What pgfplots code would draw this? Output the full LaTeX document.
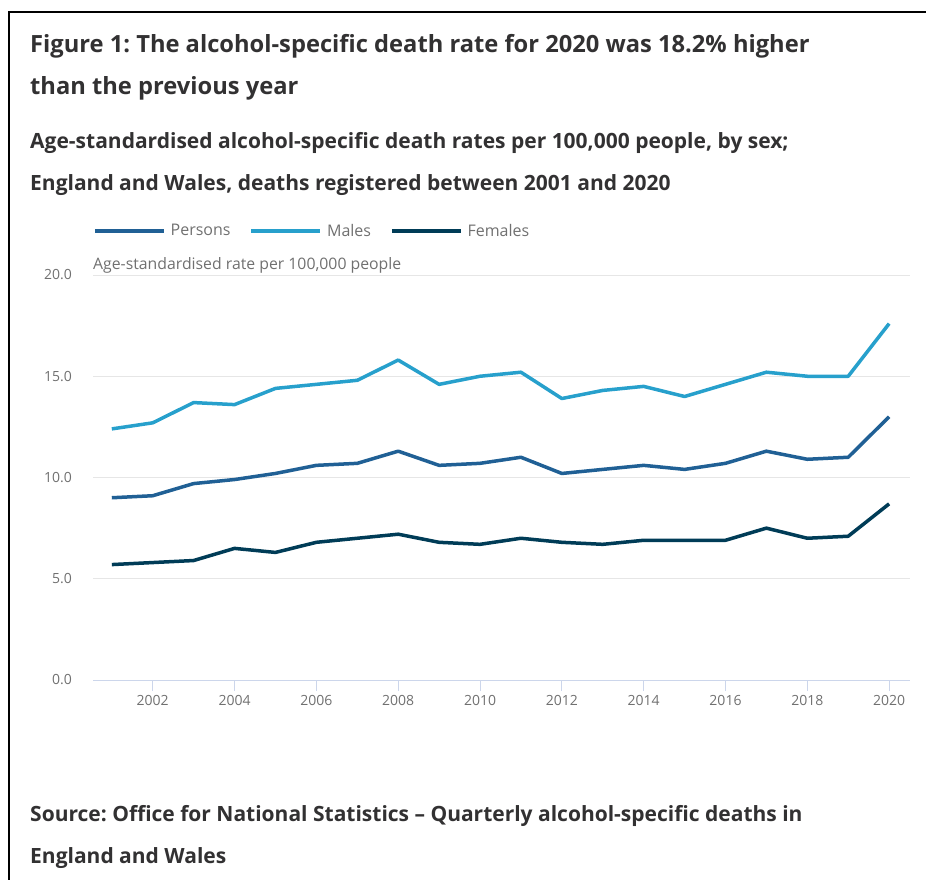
\documentclass[border=0pt]{standalone}
\usepackage{fontspec}
\setmainfont{Open Sans}
\usepackage{pgfplots}
\pgfplotsset{compat=1.18}
\frenchspacing
\definecolor{persons}{HTML}{206095}
\definecolor{males}{HTML}{27A0CC}
\definecolor{females}{HTML}{003C57}
\definecolor{titlec}{HTML}{323132}
\definecolor{tickc}{HTML}{707070}
\definecolor{gridc}{HTML}{E6E6E6}
\definecolor{axisc}{HTML}{CCD6EB}
\pgfplotstableread{
year persons males females
2001 9.0 12.4 5.7
2002 9.1 12.7 5.8
2003 9.7 13.7 5.9
2004 9.9 13.6 6.5
2005 10.2 14.4 6.3
2006 10.6 14.6 6.8
2007 10.7 14.8 7.0
2008 11.3 15.8 7.2
2009 10.6 14.6 6.8
2010 10.7 15.0 6.7
2011 11.0 15.2 7.0
2012 10.2 13.9 6.8
2013 10.4 14.3 6.7
2014 10.6 14.5 6.9
2015 10.4 14.0 6.9
2016 10.7 14.6 6.9
2017 11.3 15.2 7.5
2018 10.9 15.0 7.0
2019 11.0 15.0 7.1
2020 13.0 17.6 8.7
}\datatable
\begin{document}
\begin{tikzpicture}
\useasboundingbox (0pt,0pt) rectangle (926pt,-880pt);
\draw[line width=2pt,black] (9pt,-880pt) -- (9pt,-12.5pt) -- (926pt,-12.5pt);
\node[anchor=base west,inner sep=0,text=titlec,font=\fontsize{23.7}{28}\selectfont\bfseries] at (30pt,-53pt) {Figure 1: The alcohol-specific death rate for 2020 was 18.2\% higher};
\node[anchor=base west,inner sep=0,text=titlec,font=\fontsize{23.7}{28}\selectfont\bfseries] at (30pt,-95pt) {than the previous year};
\node[anchor=base west,inner sep=0,text=titlec,font=\fontsize{21}{25}\selectfont\bfseries] at (30pt,-148pt) {Age-standardised alcohol-specific death rates per 100,000 people, by sex;};
\node[anchor=base west,inner sep=0,text=titlec,font=\fontsize{21}{25}\selectfont\bfseries] at (30pt,-190pt) {England and Wales, deaths registered between 2001 and 2020};
\node[anchor=base west,inner sep=0,text=titlec,font=\fontsize{21}{25}\selectfont\bfseries] at (30pt,-821pt) {Source: Office for National Statistics -- Quarterly alcohol-specific deaths in};
\node[anchor=base west,inner sep=0,text=titlec,font=\fontsize{21}{25}\selectfont\bfseries] at (30pt,-863pt) {England and Wales};
\begin{axis}[
  at={(93pt,-680pt)}, anchor=south west,
  scale only axis, width=817pt, height=405pt,
  xmin=2000.54, xmax=2020.51, ymin=0, ymax=20,
  xtick={2002,2004,...,2020},
  ytick={0,5,10,15,20},
  yticklabel style={/pgf/number format/fixed, /pgf/number format/fixed zerofill, /pgf/number format/precision=1},
  /pgf/number format/assume math mode=true,
  xticklabel style={/pgf/number format/1000 sep={}},
  tick label style={font=\fontsize{14}{16}\selectfont, text=tickc},
  ymajorgrids, grid style={gridc, line width=1pt},
  axis x line*=bottom, axis y line*=left,
  x axis line style={axisc, line width=1pt, -},
  y axis line style={draw=none},
  xtick style={axisc, line width=1pt},
  ytick style={draw=none},
  tick align=outside,
  major tick length=11pt,
  xticklabel style={yshift=-1pt},
  yticklabel style={inner sep=0pt, anchor=east, xshift=-10pt},
  clip=false,
  legend style={at={(0,1)}, anchor=west, yshift=44pt, draw=none, fill=none,
    font=\fontsize{16}{18}\selectfont, text=tickc, inner sep=0pt,
    /tikz/every even column/.append style={column sep=17pt}},
  legend columns=3,
  legend image code/.code={\draw[#1, line width=3.5pt] (0pt,0pt) -- (69pt,0pt); \path (72pt,0pt);},
  legend cell align=left,
]
\addplot[persons, line width=3.5pt, line join=round] table[x=year,y=persons]{\datatable};
\addlegendentry{Persons}
\addplot[males, line width=3.5pt, line join=round] table[x=year,y=males]{\datatable};
\addlegendentry{Males}
\addplot[females, line width=3.5pt, line join=round] table[x=year,y=females]{\datatable};
\addlegendentry{Females}
\node[anchor=west, inner sep=0, text=tickc, font=\fontsize{15.8}{18}\selectfont] at (rel axis cs:0,1) [yshift=10pt] {Age-standardised rate per 100,000 people};
\end{axis}
\end{tikzpicture}
\end{document}
